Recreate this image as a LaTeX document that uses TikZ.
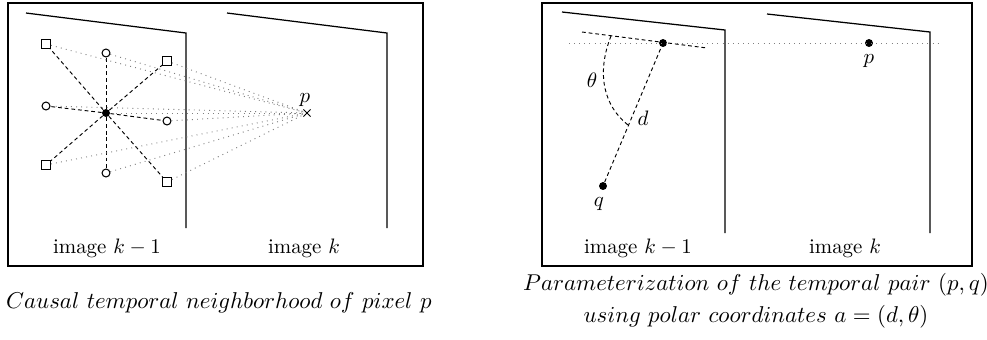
\documentclass[tikz,border=0pt]{standalone}
\usepackage{amsmath,amssymb}
\usetikzlibrary{positioning,shapes.misc}

\begin{document}
\begin{tikzpicture}[x=0.4785pt,y=-0.4785pt]
\tikzstyle{frame}=[draw,line width=1.2pt]
\tikzstyle{page}=[line width=0.6pt]
\tikzstyle{sq}=[rectangle,draw,minimum size=4.2pt,inner sep=0pt,line width=0.5pt]
\tikzstyle{ci}=[circle,draw,minimum size=3.8pt,inner sep=0pt,line width=0.5pt]
\tikzstyle{dot}=[circle,fill,minimum size=3.8pt,inner sep=0pt]
\tikzstyle{nb}=[dash pattern=on 1.8pt off 1.4pt,line width=0.45pt]
\tikzstyle{ray}=[gray,dotted,line width=0.45pt]
\tikzstyle{caption}=[font=\fontsize{11}{15.3}\selectfont,align=center]
\useasboundingbox (0,0) rectangle (987,339);

% causal neighborhood
\draw[frame] (8,3) rectangle (423,266);
\draw[page] (26,13) -- (186,33) -- (186,228);
\draw[page] (227,13) -- (387,33) -- (387,228);
\node at (107,248) {image $k-1$};
\node at (304,248) {image $k$};
\node[dot] (c) at (106,113) {};
\node[sq] (s1) at (46,44) {};
\node[sq] (s2) at (167,61) {};
\node[sq] (s3) at (46,165) {};
\node[sq] (s4) at (167,182) {};
\node[ci] (o1) at (106,53) {};
\node[ci] (o2) at (46,106) {};
\node[ci] (o3) at (167,121) {};
\node[ci] (o4) at (106,173) {};
\node[cross out,draw,minimum size=3pt,inner sep=0pt,line width=0.4pt] (p) at (307,113) {};
\node[above=-2pt of p,xshift=-1pt] {$p$};
\foreach \n in {s1,s2,s3,s4,o1,o2,o3,o4}
  \draw[nb] (c) -- (\n);
\foreach \n in {c,s1,s2,s3,s4,o1,o2,o3,o4}
  \draw[ray] (\n) -- (p);
\node[caption] at (219,303) {$Causal\ temporal\ neighborhood\ of\ pixel\ p$};

% polar coordinates of the pair
\draw[frame] (542,3) rectangle (972,266);
\draw[page] (562,12) -- (725,30) -- (725,233);
\draw[page] (767,14) -- (930,32) -- (930,233);
\node at (638,248) {image $k-1$};
\node at (845,248) {image $k$};
\coordinate (hl) at (569,43);
\coordinate (hr) at (942,43);
\coordinate (t1) at (582,32);
\coordinate (t2) at (707,48);
\coordinate (a1) at (611,36);
\coordinate (a2) at (628,125);
\node[dot] (pk) at (663,43) {};
\node[dot] (pp) at (869,43) {};
\node[dot] (q) at (603,186) {};
\node[below=0pt of pp] {$p$};
\node[below=0pt of q,xshift=-2pt] {$q$};
\draw[ray] (hl) -- (hr);
\draw[nb] (t1) -- (t2);
\draw[nb] (q) -- (pk);
\draw[nb] (a1) .. controls (596,74) and (604,106) .. (a2);
\node at (592,80) {$\theta$};
\node at (643,118) {$d$};
\node[caption] at (756,301) {$Parameterization\ of\ the\ temporal\ pair\ (p,q)$\\$using\ polar\ coordinates\ a=(d,\theta)$};
\end{tikzpicture}
\end{document}
